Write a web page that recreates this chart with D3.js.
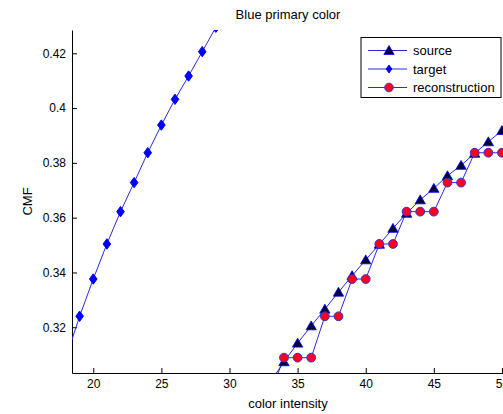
<!DOCTYPE html>
<html>
<head>
<meta charset="utf-8">
<script src="https://cdn.jsdelivr.net/npm/d3@7"></script>
<style>
  body { margin: 0; background: #fff; }
  svg { display: block; font-family: "Liberation Sans", Arial, sans-serif; }
  .tick text { font-size: 12px; fill: #000; }
</style>
</head>
<body>
<svg id="chart"></svg>
<script>
var svgWidth = 503;
var svgHeight = 414;

var margin = { top: 30, left: 72, bottom: 373, right: 504 };

// data
var sourceX = [33, 34, 35, 36, 37, 38, 39, 40, 41, 42, 43, 44, 45, 46, 47, 48, 49, 50, 51];
var sourceY = [0.3000, 0.3074, 0.3142, 0.3205, 0.3266, 0.3328, 0.3388, 0.3446, 0.3503, 0.3561,
               0.3616, 0.3665, 0.3707, 0.3753, 0.3791, 0.3835, 0.3877, 0.3918, 0.3960];

var targetX = [18, 19, 20, 21, 22, 23, 24, 25, 26, 27, 28, 29];
var targetY = [0.3089, 0.3240, 0.3376, 0.3504, 0.3622, 0.3728, 0.3837, 0.3938, 0.4032, 0.4117, 0.4206, 0.4295];

var reconX = [33, 34, 35, 36, 37, 38, 39, 40, 41, 42, 43, 44, 45, 46, 47, 48, 49, 50, 51];
var reconY = [0.2960, 0.3089, 0.3089, 0.3089, 0.3240, 0.3240, 0.3376, 0.3376, 0.3504, 0.3504,
              0.3622, 0.3622, 0.3622, 0.3728, 0.3728, 0.3837, 0.3837, 0.3837, 0.3837];

var xTicks = [20, 25, 30, 35, 40, 45, 50];
var yTicks = [0.32, 0.34, 0.36, 0.38, 0.40, 0.42];
var legendNames = ["source", "target", "reconstruction"];

var lineColor = "#2a2ae0";

var svg = d3.select("#chart")
  .attr("width", svgWidth)
  .attr("height", svgHeight);

var x = d3.scaleLinear().domain([18.44, 50.15]).range([margin.left, margin.right]);
var y = d3.scaleLinear().domain([0.3033, 0.4285]).range([margin.bottom, margin.top]);

svg.append("defs").append("clipPath").attr("id", "plotclip")
  .append("rect")
  .attr("x", margin.left)
  .attr("y", margin.top)
  .attr("width", margin.right - margin.left)
  .attr("height", margin.bottom - margin.top);

// axes, ticks pointing inward like matlab
var xAxis = svg.append("g")
  .attr("transform", `translate(0, ${margin.bottom})`)
  .call(d3.axisBottom(x).tickValues(xTicks).tickSizeInner(-5).tickSizeOuter(0).tickPadding(6)
    .tickFormat(d3.format("d")));

var yAxis = svg.append("g")
  .attr("transform", `translate(${margin.left}, 0)`)
  .call(d3.axisLeft(y).tickValues(yTicks).tickSizeInner(-5).tickSizeOuter(0).tickPadding(6)
    .tickFormat(function(d) { return d3.format("")(+d.toFixed(2)); }));

svg.selectAll(".domain").attr("stroke", "#000");
svg.selectAll(".tick line").attr("stroke", "#000");

// plot series
var plot = svg.append("g").attr("clip-path", "url(#plotclip)");

var line = d3.line().x(d => x(d[0])).y(d => y(d[1]));

var sourceData = sourceX.map((v, i) => [v, sourceY[i]]);
var targetData = targetX.map((v, i) => [v, targetY[i]]);
var reconData = reconX.map((v, i) => [v, reconY[i]]);

var triangle = d3.symbol().type(d3.symbolTriangle).size(46);
var diamond = "M0,-5.2L3.8,0L0,5.2L-3.8,0Z";

function drawSeries(data) {
  plot.append("path")
    .datum(data)
    .attr("d", line)
    .attr("fill", "none")
    .attr("stroke", lineColor)
    .attr("stroke-width", 1);
}

drawSeries(targetData);
drawSeries(sourceData);
drawSeries(reconData);

plot.selectAll(".tgt")
  .data(targetData)
  .enter()
  .append("path")
  .attr("class", "tgt")
  .attr("transform", d => `translate(${x(d[0])}, ${y(d[1])})`)
  .attr("d", diamond)
  .attr("fill", "#0000ff")
  .attr("stroke", "#0000ff");

plot.selectAll(".src")
  .data(sourceData)
  .enter()
  .append("path")
  .attr("class", "src")
  .attr("transform", d => `translate(${x(d[0])}, ${y(d[1]) + 1})`)
  .attr("d", triangle)
  .attr("fill", "#000033")
  .attr("stroke", "#0000ff")
  .attr("stroke-width", 0.8);

plot.selectAll(".rec")
  .data(reconData)
  .enter()
  .append("circle")
  .attr("class", "rec")
  .attr("cx", d => x(d[0]))
  .attr("cy", d => y(d[1]))
  .attr("r", 4.4)
  .attr("fill", "#ff0022")
  .attr("stroke", "#3333cc")
  .attr("stroke-width", 1);

// title and axis labels
svg.append("text")
  .attr("x", (margin.left + margin.right) / 2)
  .attr("y", 19)
  .attr("text-anchor", "middle")
  .attr("font-size", 13)
  .text("Blue primary color");

svg.append("text")
  .attr("x", (margin.left + margin.right) / 2)
  .attr("y", 408)
  .attr("text-anchor", "middle")
  .attr("font-size", 13)
  .text("color intensity");

svg.append("text")
  .attr("transform", "rotate(-90)")
  .attr("x", -(margin.top + margin.bottom) / 2)
  .attr("y", 32)
  .attr("text-anchor", "middle")
  .attr("font-size", 13)
  .text("CMF");

// legend
var legend = svg.append("g").attr("transform", "translate(361, 37.5)");
legend.append("rect")
  .attr("width", 140)
  .attr("height", 60)
  .attr("fill", "#fff")
  .attr("stroke", "#000")
  .attr("stroke-width", 1);

legendNames.forEach(function(name, i) {
  var ly = 13 + i * 18.5;
  legend.append("line")
    .attr("x1", 7).attr("x2", 46)
    .attr("y1", ly).attr("y2", ly)
    .attr("stroke", lineColor);
  var mk;
  if (i === 0) {
    mk = legend.append("path").attr("d", triangle)
      .attr("transform", `translate(28, ${ly + 1})`)
      .attr("fill", "#000033").attr("stroke", "#0000ff").attr("stroke-width", 0.8);
  } else if (i === 1) {
    mk = legend.append("path").attr("d", "M0,-4L2.8,0L0,4L-2.8,0Z")
      .attr("transform", `translate(28, ${ly})`)
      .attr("fill", "#0000ff").attr("stroke", "#0000ff");
  } else {
    mk = legend.append("circle").attr("cx", 28).attr("cy", ly).attr("r", 4.3)
      .attr("fill", "#ff0022").attr("stroke", "#3333cc");
  }
  legend.append("text")
    .attr("x", 52)
    .attr("y", ly + 4.5)
    .attr("font-size", 13)
    .text(name);
});
</script>
</body>
</html>
